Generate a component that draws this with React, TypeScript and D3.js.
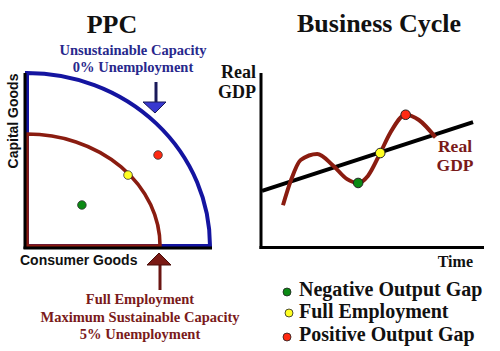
import React from "react";
import * as d3 from "d3";

// ---------- PPC data (consumer goods x, capital goods y, 0..100) ----------
const ppcOuter = { xMax: 100, yMax: 100 }; // unsustainable capacity
const ppcInner = { xMax: 72.7, yMax: 64.7 }; // full employment
const ppcPoints = [
  { name: "negative", x: 30, y: 23.7, color: "#0b8a14" },
  { name: "full", x: 55.2, y: 41, color: "#ffff22" },
  { name: "positive", x: 71.6, y: 52.6, color: "#ff2a12" },
];

// ---------- Business cycle data (time, real GDP) ----------
const trendTime = [0, 9.55];
const trendGdp = [32.2, 71.8];
const gdpTime = [0.95, 1.3, 1.75, 2.5, 3.2, 3.85, 4.35, 4.8, 5.35, 5.8, 6.5, 7.1, 7.85];
const gdpValue = [24, 38, 50, 53.5, 47, 39, 36.8, 41, 54, 65.5, 76, 73, 63];
const cyclePoints = [
  { t: 4.35, v: 36.8, color: "#0b8a14" },
  { t: 5.35, v: 54, color: "#ffff22" },
  { t: 6.5, v: 76, color: "#ff2a12" },
];
const legendLabels = ["Negative Output Gap", "Full Employment", "Positive Output Gap"];
const legendColors = ["#0b8a14", "#ffff22", "#ff2a12"];

const SERIF = "'Liberation Serif', 'Times New Roman', serif";
const SANS = "'Liberation Sans', Arial, sans-serif";
const BLUE = "#1414a0";
const BLUE_TEXT = "#28288c";
const DRED = "#8a1c10";
const DRED_TEXT = "#7a1a1a";

export default function App() {
  // PPC scales
  const px = d3.scaleLinear().domain([0, 100]).range([27, 210]);
  const py = d3.scaleLinear().domain([0, 100]).range([246, 73]);

  const frontier = (f: { xMax: number; yMax: number }) => {
    const x0 = px(0), y0 = py(0);
    const x1 = px(f.xMax), y1 = py(f.yMax);
    const rx = x1 - x0, ry = y0 - y1;
    return `M${x0},${y0} L${x0},${y1} A${rx},${ry} 0 0 1 ${x1},${y0} Z`;
  };

  // Business cycle scales
  const bx = d3.scaleLinear().domain([0, 10]).range([262, 483]);
  const by = d3.scaleLinear().domain([0, 100]).range([247, 73]);
  const gdpLine = d3
    .line<number>()
    .x((_, i) => bx(gdpTime[i]))
    .y((d) => by(d))
    .curve(d3.curveMonotoneX);

  return (
    <svg width={500} height={351} style={{ position: "absolute", left: 0, top: 0, background: "#fff" }}>
      <rect width={500} height={351} fill="#fff" />
      {/* ---------------- PPC ---------------- */}
      <text x={112} y={33} textAnchor="middle" fontFamily={SERIF} fontWeight="bold" fontSize={26} fill="#111">PPC</text>
      <text x={133} y={55} textAnchor="middle" fontFamily={SERIF} fontWeight="bold" fontSize={14.5} fill={BLUE_TEXT}>Unsustainable Capacity</text>
      <text x={133} y={72} textAnchor="middle" fontFamily={SERIF} fontWeight="bold" fontSize={14.5} fill={BLUE_TEXT}>0% Unemployment</text>

      <path d={frontier(ppcOuter)} fill="none" stroke={BLUE} strokeWidth={4} />
      <path d={frontier(ppcInner)} fill="none" stroke={DRED} strokeWidth={3.6} />
      {/* axes */}
      <line x1={25} y1={73} x2={25} y2={249} stroke="#000" strokeWidth={3} />
      <line x1={23.5} y1={248} x2={212} y2={248} stroke="#000" strokeWidth={3} />

      {ppcPoints.map((p) => (
        <circle key={p.name} cx={px(p.x)} cy={py(p.y)} r={4.3} fill={p.color} stroke="#333" strokeWidth={0.8} />
      ))}

      {/* blue arrow */}
      <line x1={156} y1={82} x2={156} y2={103} stroke="#1a1a5a" strokeWidth={3} />
      <path d="M143,102 L166,102 L155,113 Z" fill="#3838d0" stroke="#1a1a5a" strokeWidth={1} />

      {/* red arrow */}
      <line x1={160} y1={263} x2={160} y2={290} stroke="#6a1512" strokeWidth={3} />
      <path d="M147,265 L171,265 L159,253 Z" fill="#7a1a14" stroke="#4a0e0a" strokeWidth={1} />

      <text transform="translate(18,121) rotate(-90)" textAnchor="middle" fontFamily={SANS} fontWeight="bold" fontSize={14} fill="#111">Capital Goods</text>
      <text x={20} y={265} fontFamily={SANS} fontWeight="bold" fontSize={14} fill="#111">Consumer Goods</text>

      <text x={140} y={304} textAnchor="middle" fontFamily={SERIF} fontWeight="bold" fontSize={14.5} fill={DRED_TEXT}>Full Employment</text>
      <text x={140} y={322} textAnchor="middle" fontFamily={SERIF} fontWeight="bold" fontSize={14.5} fill={DRED_TEXT}>Maximum Sustainable Capacity</text>
      <text x={140} y={339} textAnchor="middle" fontFamily={SERIF} fontWeight="bold" fontSize={14.5} fill={DRED_TEXT}>5% Unemployment</text>

      {/* ---------------- Business cycle ---------------- */}
      <text x={379} y={32} textAnchor="middle" fontFamily={SERIF} fontWeight="bold" fontSize={26} fill="#111">Business Cycle</text>
      <text x={256} y={78} textAnchor="end" fontFamily={SERIF} fontWeight="bold" fontSize={18} fill="#111">Real</text>
      <text x={256} y={98} textAnchor="end" fontFamily={SERIF} fontWeight="bold" fontSize={18} fill="#111">GDP</text>

      <line x1={261} y1={73} x2={261} y2={249} stroke="#000" strokeWidth={3} />
      <line x1={259.5} y1={247.5} x2={484} y2={247.5} stroke="#000" strokeWidth={3} />

      <line x1={bx(trendTime[0])} y1={by(trendGdp[0])} x2={bx(trendTime[1])} y2={by(trendGdp[1])} stroke="#000" strokeWidth={4} />
      <path d={gdpLine(gdpValue) || ""} fill="none" stroke={DRED} strokeWidth={4} strokeLinecap="butt" />

      {cyclePoints.map((p, i) => (
        <circle key={i} cx={bx(p.t)} cy={by(p.v)} r={4.8} fill={p.color} stroke="#222" strokeWidth={1} />
      ))}

      <text x={455} y={152} textAnchor="middle" fontFamily={SERIF} fontWeight="bold" fontSize={17.5} fill={DRED_TEXT}>Real</text>
      <text x={455} y={171} textAnchor="middle" fontFamily={SERIF} fontWeight="bold" fontSize={17.5} fill={DRED_TEXT}>GDP</text>

      <text x={473} y={267} textAnchor="end" fontFamily={SERIF} fontWeight="bold" fontSize={16} fill="#111">Time</text>

      {legendLabels.map((lab, i) => (
        <g key={lab}>
          <circle cx={i === 1 ? 289 : 287} cy={[292, 313, 337][i]} r={4} fill={legendColors[i]} stroke="#222" strokeWidth={0.8} />
          <text x={299} y={[296, 318, 341][i]} fontFamily={SERIF} fontWeight="bold" fontSize={20} fill="#111">{lab}</text>
        </g>
      ))}
    </svg>
  );
}
